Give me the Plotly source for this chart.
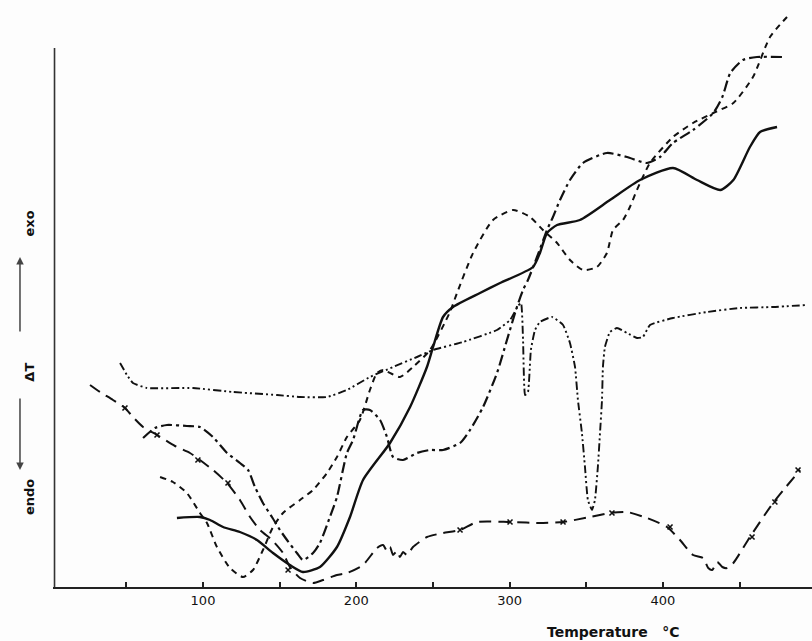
import plotly.graph_objects as go

# ---- data (temperature in °C, ΔT in arbitrary units) ----
solid_T = [83.0, 98.0, 104.6, 113.1, 124.1, 135.2, 145.7, 156.7, 165.2, 176.3, 187.4, 195.9,
           204.4, 222.0, 235.1, 246.1, 250.1, 256.6, 263.1, 280.7, 293.8, 315.3, 319.8, 324.4,
           331.0, 345.9, 365.5, 385.1, 406.6, 422.3, 437.5, 446.0, 456.8, 463.4, 474.5]
solid_dT = [69, 70, 67, 60, 55, 47, 34, 22, 15, 20, 40, 70,
            107, 144, 180, 220, 240, 270, 280, 294, 304, 320, 334, 354,
            362, 367, 387, 407, 419, 407, 397, 407, 440, 455, 460]

dashed_T = [72.0, 80.4, 89.5, 98.0, 102.6, 109.1, 117.6, 126.1, 132.6, 139.1, 145.7, 152.2,
            163.3, 171.8, 180.9, 187.4, 193.9, 202.4, 208.9, 213.5, 217.5, 228.5, 237.0, 248.1,
            261.1, 265.7, 276.2, 289.2, 302.3, 313.3, 321.8, 331.0, 339.4, 347.9, 357.0, 363.5,
            367.5, 374.0, 378.5, 383.1, 391.6, 406.6, 419.7, 432.9, 446.0, 458.8, 469.9, 481.0]
dashed_dT = [110, 105, 94, 74, 64, 40, 19, 10, 17, 37, 60, 74,
             87, 97, 114, 130, 150, 167, 197, 214, 217, 210, 220, 237,
             275, 294, 334, 367, 377, 370, 357, 344, 327, 317, 320, 334,
             357, 367, 380, 397, 424, 450, 464, 474, 484, 510, 550, 570]

dashdot_T = [60.9, 68.7, 76.5, 89.5, 98.0, 106.5, 115.7, 124.1, 129.4, 133.9, 139.1, 145.0,
             150.2, 154.8, 161.3, 165.2, 171.8, 176.3, 182.8, 187.4, 193.9, 197.9, 204.4, 208.9,
             215.5, 220.0, 224.0, 230.5, 239.6, 248.1, 256.6, 267.7, 274.2, 282.7, 291.8, 298.3,
             304.8, 308.8, 312.0, 317.9, 324.4, 328.3, 332.9, 339.4, 347.9, 363.5, 376.6, 389.6,
             398.1, 406.6, 419.7, 432.9, 438.8, 444.0, 452.2, 461.4, 478.4]
dashdot_dT = [149, 159, 162, 161, 160, 150, 134, 124, 117, 100, 84, 70,
              57, 47, 34, 27, 34, 44, 70, 90, 134, 147, 177, 177,
              167, 150, 130, 127, 134, 137, 137, 144, 157, 180, 214, 247,
              280, 297, 307, 330, 357, 370, 387, 407, 424, 434, 430, 424,
              430, 444, 457, 474, 490, 514, 527, 530, 530]

dashdotdot_T = [45.9, 50.4, 54.3, 63.5, 93.5, 119.6, 148.3, 163.3, 180.9, 193.9, 208.9, 224.0,
                239.6, 250.1, 269.6, 291.8, 300.3, 305.5, 307.5, 308.8, 310.1, 312.0, 313.9, 316.6,
                319.8, 327.7, 334.9, 339.4, 342.7, 344.6, 347.2, 349.2, 351.1, 353.8, 355.7, 357.6,
                359.0, 360.3, 360.9, 362.2, 365.5, 370.1, 376.6, 383.1, 387.0, 391.6, 406.6, 428.8,
                450.4, 471.9, 494.1]
dashdotdot_dT = [224, 212, 204, 199, 199, 195, 192, 190, 190, 197, 210, 220,
                 230, 237, 245, 257, 267, 281, 284, 247, 192, 195, 237, 257,
                 265, 270, 262, 244, 220, 187, 154, 120, 87, 77, 87, 120,
                 154, 187, 220, 240, 255, 259, 254, 249, 250, 262, 269, 275,
                 279, 280, 282]

dashx_T = [26.3, 32.8, 41.3, 49.1, 54.3, 60.9, 70.0, 81.7, 91.5, 98.0, 106.5, 115.7,
           124.1, 130.7, 137.2, 145.0, 152.2, 156.7, 163.3, 171.8, 178.3, 187.4, 193.9, 204.4,
           213.5, 217.5, 220.0, 222.0, 224.0, 226.6, 228.5, 230.5, 233.1, 237.0, 246.1, 256.6,
           267.7, 278.8, 300.3, 321.8, 334.9, 352.5, 365.5, 376.6, 389.6, 402.7, 411.2, 419.7,
           426.3, 429.6, 432.2, 435.5, 438.8, 442.0, 446.0, 456.8, 471.9, 489.5]
dashx_dT = [202, 195, 187, 179, 170, 160, 152, 141, 134, 127, 117, 104,
            87, 70, 57, 47, 34, 20, 9, 4, 7, 12, 14, 22,
            39, 42, 36, 40, 32, 36, 30, 35, 32, 40, 50, 54,
            57, 65, 65, 64, 65, 70, 74, 75, 69, 60, 47, 32,
            29, 19, 17, 25, 20, 19, 24, 50, 84, 117]

cross_T = [49.1, 70.0, 96.7, 116.3, 155.5, 267.7, 300.3, 334.9, 366.8, 404.7, 458.2, 473.1, 488.2]
cross_dT = [179, 152, 127, 104, 17, 57, 65, 65, 74, 60, 50, 85, 117]

tick_values = [50, 100, 150, 200, 250, 300, 350, 400, 450]
tick_labels = ["", "100", "", "200", "", "300", "", "400", ""]

INK = "#111111"

fig = go.Figure()


def add_curve(T, dT, dash, width, smoothing=0.6):
    fig.add_trace(go.Scatter(x=T, y=dT, mode="lines",
                             line=dict(color=INK, width=width, dash=dash,
                                       shape="spline", smoothing=smoothing),
                             hoverinfo="skip", showlegend=False))


add_curve(solid_T, solid_dT, "solid", 2.4)
add_curve(dashed_T, dashed_dT, "6px,5px", 2.0)
add_curve(dashdot_T, dashdot_dT, "11px,4px,3px,4px", 2.2)
add_curve(dashdotdot_T, dashdotdot_dT, "8px,3px,2px,3px,2px,3px", 1.9, smoothing=0.4)
add_curve(dashx_T, dashx_dT, "12px,7px", 2.0)
fig.add_trace(go.Scatter(x=cross_T, y=cross_dT, mode="markers",
                         marker=dict(symbol="x-thin-open", size=5, color=INK,
                                     line=dict(color=INK, width=1.6)),
                         hoverinfo="skip", showlegend=False))

# left axis line (shorter than the plotting area, as in the original)
fig.add_shape(type="line", xref="paper", yref="y", x0=0.002, x1=0.002, y0=0, y1=539,
              line=dict(color="#333333", width=1.6))

ann_font = dict(family="DejaVu Sans", size=13, color=INK)
for txt, yp in [("exo", 0.620), ("ΔT", 0.366), ("endo", 0.120)]:
    fig.add_annotation(text="<b>%s</b>" % txt, xref="paper", yref="paper", x=-0.0435, y=yp,
                       showarrow=False, textangle=-90, font=ann_font)
# arrows of the ΔT label
fig.add_annotation(text="", xref="paper", yref="paper", x=-0.0435, y=0.5622, ax=0, ay=76,
                   showarrow=True, arrowhead=2, arrowsize=1, arrowwidth=1.5, arrowcolor="#444444")
fig.add_annotation(text="", xref="paper", yref="paper", x=-0.0435, y=0.1993, ax=0, ay=-73,
                   showarrow=True, arrowhead=2, arrowsize=1, arrowwidth=1.5, arrowcolor="#444444")

fig.add_annotation(text="<b>Temperature\u00a0\u00a0\u00a0°C</b>", xref="paper", yref="paper",
                   x=0.739, y=-0.077, xanchor="center", yanchor="middle", showarrow=False,
                   font=dict(family="DejaVu Sans", size=14, color=INK))

fig.update_layout(
    width=812, height=641,
    margin=dict(l=53, r=0, t=0, b=54),
    paper_bgcolor="#fdfdfd", plot_bgcolor="#fdfdfd",
    xaxis=dict(range=[2.15, 497.3], showgrid=False, zeroline=False, showline=True,
               linecolor="#222222", linewidth=2, ticks="inside", ticklen=5, tickwidth=1.5,
               tickcolor="#222222", tickvals=tick_values, ticktext=tick_labels,
               tickfont=dict(family="DejaVu Sans", size=13, color=INK)),
    yaxis=dict(range=[0, 587], showgrid=False, zeroline=False, showline=False,
               showticklabels=False, ticks=""),
)

fig.write_html("out.html", config={"displayModeBar": False},
               post_script="document.body.style.margin='0';document.body.style.overflow='hidden';")
